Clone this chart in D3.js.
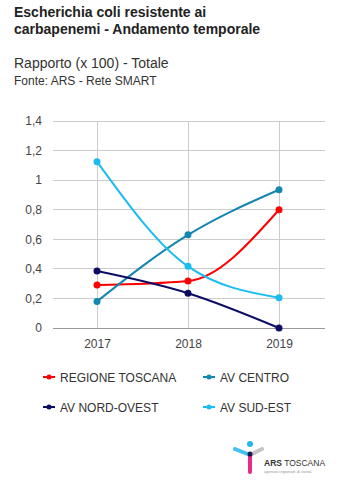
<!DOCTYPE html>
<html><head><meta charset="utf-8">
<script src="https://cdn.jsdelivr.net/npm/d3@7"></script>
<style>body{margin:0;background:#fff;}svg{display:block;font-family:Arial,"Liberation Sans",sans-serif;}</style>
</head><body>
<script>
const years = ["2017","2018","2019"];
const seriesNames = ["REGIONE TOSCANA","AV CENTRO","AV NORD-OVEST","AV SUD-EST"];
const toscana = [0.29, 0.318, 0.80];
const centro = [0.18, 0.63, 0.935];
const nordOvest = [0.385, 0.235, 0.0];
const sudEst = [1.125, 0.417, 0.205];
const yTicks = [0,0.2,0.4,0.6,0.8,1,1.2,1.4];
const colors = ["#ff0000","#1487b0","#0c0c64","#1bbcf0"];
const allSeries = [toscana, centro, nordOvest, sudEst];

const W=340,H=498;
const svg=d3.select("body").append("svg").attr("width",W).attr("height",H);

svg.append("text").attr("x",14).attr("y",17).attr("font-size",14).attr("font-weight","bold").attr("fill","#222").text("Escherichia coli resistente ai");
svg.append("text").attr("x",14).attr("y",34).attr("font-size",14).attr("font-weight","bold").attr("fill","#222").text("carbapenemi - Andamento temporale");
svg.append("text").attr("x",14).attr("y",68).attr("font-size",14).attr("fill","#333").text("Rapporto (x 100) - Totale");
svg.append("text").attr("x",14).attr("y",85).attr("font-size",12).attr("fill","#333").text("Fonte: ARS - Rete SMART");

const x=d3.scalePoint().domain(years).range([97,279]);
const y=d3.scaleLinear().domain([0,1.4]).range([328,121]);
const left=53,right=325;

const grid=svg.append("g");
yTicks.forEach(t=>{
  grid.append("line").attr("x1",left).attr("x2",right).attr("y1",y(t)).attr("y2",y(t))
    .attr("stroke",t===0?"#999":"#ccc").attr("stroke-width",1).attr("shape-rendering","crispEdges");
});
years.forEach(yr=>{
  grid.append("line").attr("x1",x(yr)).attr("x2",x(yr)).attr("y1",y(1.4)).attr("y2",y(0))
    .attr("stroke","#ccc").attr("stroke-width",1).attr("shape-rendering","crispEdges");
});

const yAxis=d3.axisLeft(y).tickValues(yTicks).tickSize(0).tickPadding(0)
  .tickFormat(d=>d3.format("~g")(d).replace(".",","));
const ya=svg.append("g").attr("transform",`translate(${left-11},0)`).call(yAxis);
ya.select(".domain").remove();
ya.selectAll("text").attr("font-size",12).attr("fill","#444").attr("font-family","Arial,'Liberation Sans',sans-serif");

const xAxis=d3.axisBottom(x).tickSize(0).tickPadding(0);
const xa=svg.append("g").attr("transform",`translate(0,${y(0)+11})`).call(xAxis);
xa.select(".domain").remove();
xa.selectAll("text").attr("font-size",12).attr("fill","#444").attr("dy","0.71em").attr("font-family","Arial,'Liberation Sans',sans-serif");

const line=d3.line().x((d,i)=>x(years[i])).y(d=>y(d)).curve(d3.curveMonotoneX);
allSeries.forEach((s,k)=>{
  svg.append("path").datum(s).attr("d",line).attr("fill","none").attr("stroke",colors[k]).attr("stroke-width",2);
  svg.selectAll(null).data(s).enter().append("circle")
    .attr("cx",(d,i)=>x(years[i])).attr("cy",d=>y(d)).attr("r",3.5).attr("fill",colors[k]);
});

// legend
const legPos=[[43,377],[203,377],[43,407],[203,407]];
seriesNames.forEach((n,k)=>{
  const [lx,ly]=legPos[k];
  svg.append("line").attr("x1",lx).attr("x2",lx+12).attr("y1",ly).attr("y2",ly).attr("stroke",colors[k]).attr("stroke-width",2);
  svg.append("circle").attr("cx",lx+6).attr("cy",ly).attr("r",2.5).attr("fill",colors[k]);
  svg.append("text").attr("x",lx+17).attr("y",ly+4.5).attr("font-size",12).attr("fill","#333").text(n);
});

// logo
const lg=svg.append("g");
lg.append("line").attr("x1",235).attr("y1",449).attr("x2",250).attr("y2",455).attr("stroke","#22b8ee").attr("stroke-width",4).attr("stroke-linecap","round").attr("opacity",0.85);
lg.append("line").attr("x1",250).attr("y1",455).attr("x2",262).attr("y2",449).attr("stroke","#bbbbbb").attr("stroke-width",4).attr("stroke-linecap","round").attr("opacity",0.85);
lg.append("line").attr("x1",250).attr("y1",456).attr("x2",250).attr("y2",472).attr("stroke","#e6157e").attr("stroke-width",4).attr("stroke-linecap","round").attr("opacity",0.9);
lg.append("circle").attr("cx",250).attr("cy",454).attr("r",2.5).attr("fill","#1a1a4a");
lg.append("circle").attr("cx",250).attr("cy",444).attr("r",3).attr("fill","#22b8ee");
lg.append("text").attr("x",264).attr("y",466).attr("font-size",8.5).attr("fill","#333").html('<tspan font-weight="bold">ARS</tspan> TOSCANA');
lg.append("text").attr("x",264).attr("y",473).attr("font-size",4).attr("fill","#999").text("agenzia regionale di sanità");
</script>
</body></html>
